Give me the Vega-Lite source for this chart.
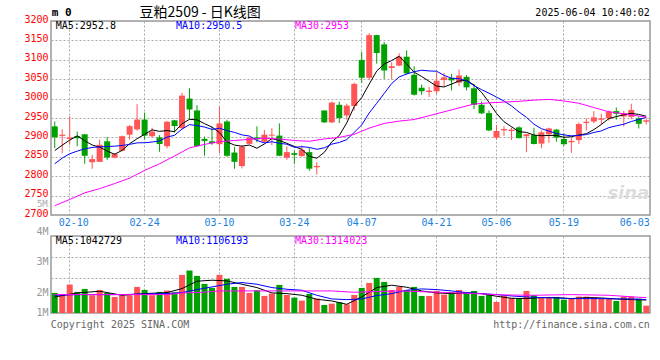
{
"$schema": "https://vega.github.io/schema/vega-lite/v6.json",
"background": "#ffffff",
"padding": {"left": 23, "top": 5, "right": 8, "bottom": 5},
"spacing": -3,
"config": {
  "view": {"stroke": "#999999", "strokeWidth": 1.5},
  "axis": {"labelFont": "DejaVu Sans Mono", "labelFontSize": 10, "ticks": false, "domain": false, "gridColor": "#aaaaaa", "gridDash": [2, 2], "gridWidth": 1, "title": null, "labelOverlap": false},
  "text": {"font": "DejaVu Sans Mono", "fontSize": 10}
},
"datasets": {
"k": [
{"d":"02-06","o":2928.5,"h":2941,"l":2872,"c":2900.4,"v":1233000,"m5":2866,"m10":2832},
{"d":"02-07","o":2903.8,"h":2920.8,"l":2860,"c":2907,"v":1183000,"m5":2880,"m10":2846.7},
{"d":"02-10","o":2896,"h":2954,"l":2881,"c":2900,"v":1650000,"m5":2893,"m10":2857.8},
{"d":"02-11","o":2903,"h":2915,"l":2877,"c":2898,"v":1283000,"m5":2904,"m10":2864.6},
{"d":"02-12","o":2908,"h":2909,"l":2832,"c":2852.6,"v":1433000,"m5":2891.6,"m10":2870.5},
{"d":"02-13","o":2836,"h":2855,"l":2819,"c":2844,"v":1117000,"m5":2880.3,"m10":2874},
{"d":"02-14","o":2837,"h":2894,"l":2837,"c":2881,"v":1383000,"m5":2875.1,"m10":2875.6},
{"d":"02-17","o":2890,"h":2901,"l":2842,"c":2848,"v":1233000,"m5":2864.7,"m10":2876.5},
{"d":"02-18","o":2848,"h":2859.5,"l":2846,"c":2857,"v":1033000,"m5":2856.5,"m10":2877.4},
{"d":"02-19","o":2865.5,"h":2904.6,"l":2864,"c":2903,"v":1117000,"m5":2866.6,"m10":2879.1},
{"d":"02-20","o":2907,"h":2932,"l":2894,"c":2929,"v":1117000,"m5":2883.6,"m10":2882},
{"d":"02-21","o":2920.8,"h":2985.6,"l":2917,"c":2946,"v":1533000,"m5":2896.6,"m10":2885.9},
{"d":"02-24","o":2946,"h":2964,"l":2894,"c":2904.6,"v":1383000,"m5":2907.9,"m10":2886.3},
{"d":"02-25","o":2903,"h":2925,"l":2900,"c":2915,"v":1117000,"m5":2919.5,"m10":2888},
{"d":"02-26","o":2900,"h":2906,"l":2863,"c":2883,"v":1283000,"m5":2915.5,"m10":2891.1},
{"d":"02-27","o":2877.4,"h":2942,"l":2872,"c":2940.4,"v":1350000,"m5":2917.8,"m10":2900.7},
{"d":"02-28","o":2944,"h":2945,"l":2913,"c":2929.4,"v":1267000,"m5":2914.5,"m10":2905.5},
{"d":"03-03","o":2924,"h":3015,"l":2921.5,"c":3007.7,"v":2133000,"m5":2935.1,"m10":2921.5},
{"d":"03-04","o":3000,"h":3026.5,"l":2946,"c":2972,"v":2350000,"m5":2946.5,"m10":2933},
{"d":"03-05","o":2969.4,"h":2983,"l":2877,"c":2877.4,"v":2083000,"m5":2945.4,"m10":2930.5},
{"d":"03-06","o":2896,"h":2902,"l":2852.6,"c":2891,"v":1683000,"m5":2935.5,"m10":2926.7},
{"d":"03-07","o":2890,"h":2927.6,"l":2881,"c":2885,"v":1483000,"m5":2926.6,"m10":2920.6},
{"d":"03-10","o":2882.5,"h":2979.6,"l":2859.5,"c":2936,"v":2133000,"m5":2912.3,"m10":2923.7},
{"d":"03-11","o":2941,"h":2945.6,"l":2850,"c":2852.6,"v":1933000,"m5":2888.4,"m10":2917.5},
{"d":"03-12","o":2861,"h":2875.5,"l":2819,"c":2837,"v":1533000,"m5":2880.3,"m10":2912.9},
{"d":"03-13","o":2826,"h":2880,"l":2820,"c":2876,"v":1533000,"m5":2877.3,"m10":2906.4},
{"d":"03-14","o":2883.3,"h":2902,"l":2882,"c":2900,"v":1233000,"m5":2880.3,"m10":2903.5},
{"d":"03-17","o":2900,"h":2928.5,"l":2887.5,"c":2895,"v":1367000,"m5":2872.1,"m10":2892.2},
{"d":"03-18","o":2889,"h":2919,"l":2886,"c":2907,"v":1083000,"m5":2883,"m10":2885.7},
{"d":"03-19","o":2904.6,"h":2923.4,"l":2880,"c":2907,"v":1200000,"m5":2897,"m10":2888.7},
{"d":"03-20","o":2904.6,"h":2936,"l":2852.6,"c":2852.6,"v":1633000,"m5":2892.3,"m10":2884.8},
{"d":"03-21","o":2847.5,"h":2877,"l":2842,"c":2862,"v":1133000,"m5":2884.7,"m10":2882.5},
{"d":"03-24","o":2859.5,"h":2866,"l":2832,"c":2855,"v":1000000,"m5":2876.7,"m10":2874.4},
{"d":"03-25","o":2852,"h":2879,"l":2850,"c":2868,"v":850000,"m5":2868.9,"m10":2876},
{"d":"03-26","o":2862,"h":2873,"l":2814,"c":2819.4,"v":1183000,"m5":2851.4,"m10":2874.2},
{"d":"03-27","o":2823,"h":2836.5,"l":2804,"c":2826.5,"v":950000,"m5":2846.2,"m10":2869.3},
{"d":"03-28","o":2969.4,"h":2969.4,"l":2937,"c":2938.7,"v":633000,"m5":2861.5,"m10":2873.1},
{"d":"03-31","o":2938.7,"h":2992.4,"l":2937,"c":2989.8,"v":700000,"m5":2888.5,"m10":2882.6},
{"d":"04-01","o":2984,"h":2992,"l":2937,"c":2950,"v":767000,"m5":2904.9,"m10":2886.9},
{"d":"04-02","o":2956.6,"h":2987,"l":2945.6,"c":2982,"v":667000,"m5":2937.4,"m10":2894.4},
{"d":"04-03","o":2981,"h":3041,"l":2969,"c":3038,"v":1133000,"m5":2979.7,"m10":2912.9},
{"d":"04-07","o":3099.7,"h":3120,"l":3041,"c":3053.7,"v":1483000,"m5":3002.7,"m10":2932.1},
{"d":"04-08","o":3053.7,"h":3168.7,"l":3047.8,"c":3163.6,"v":1733000,"m5":3037.5,"m10":2963},
{"d":"04-09","o":3163.6,"h":3164.5,"l":3090,"c":3117.6,"v":1983000,"m5":3071,"m10":2987.9},
{"d":"04-10","o":3139.8,"h":3145.7,"l":3051,"c":3072.5,"v":1783000,"m5":3089.1,"m10":3013.2},
{"d":"04-11","o":3079,"h":3093.8,"l":3049.5,"c":3083.5,"v":1383000,"m5":3098.2,"m10":3038.9},
{"d":"04-14","o":3085,"h":3116.8,"l":3083.5,"c":3108,"v":1533000,"m5":3109,"m10":3055.9},
{"d":"04-15","o":3108,"h":3124.4,"l":3062,"c":3065,"v":1383000,"m5":3089.3,"m10":3063.4},
{"d":"04-16","o":3061.4,"h":3083.5,"l":3008,"c":3010,"v":1533000,"m5":3067.8,"m10":3069.4},
{"d":"04-17","o":3028,"h":3036,"l":3010,"c":3019,"v":1083000,"m5":3057.1,"m10":3073.1},
{"d":"04-18","o":3017,"h":3030,"l":3004,"c":3020.5,"v":1083000,"m5":3044.5,"m10":3071.3},
{"d":"04-21","o":3019,"h":3068,"l":3012,"c":3046,"v":1333000,"m5":3032.1,"m10":3070.6},
{"d":"04-22","o":3047.8,"h":3066.5,"l":3032,"c":3054.6,"v":1150000,"m5":3030,"m10":3059.7},
{"d":"04-23","o":3053,"h":3064,"l":3021,"c":3047,"v":1267000,"m5":3037.4,"m10":3052.6},
{"d":"04-24","o":3041,"h":3075,"l":3032,"c":3059.7,"v":1383000,"m5":3045.6,"m10":3051.3},
{"d":"04-25","o":3056,"h":3061,"l":3021,"c":3029,"v":1233000,"m5":3047.3,"m10":3045.9},
{"d":"04-28","o":3026.5,"h":3037.5,"l":2973,"c":2984,"v":1333000,"m5":3034.9,"m10":3033.5},
{"d":"04-29","o":2984,"h":2992.5,"l":2960,"c":2962,"v":1083000,"m5":3016.3,"m10":3023.2},
{"d":"04-30","o":2962.6,"h":2970,"l":2916,"c":2918,"v":1150000,"m5":2990.5,"m10":3014},
{"d":"05-06","o":2899.5,"h":2932,"l":2893.6,"c":2916.5,"v":783000,"m5":2961.9,"m10":3003.7},
{"d":"05-07","o":2918,"h":2928.5,"l":2904,"c":2921.5,"v":1083000,"m5":2940.4,"m10":2993.8},
{"d":"05-08","o":2916.5,"h":2925,"l":2893.6,"c":2920,"v":983000,"m5":2927.6,"m10":2981.2},
{"d":"05-09","o":2925.8,"h":2928.5,"l":2898,"c":2898,"v":950000,"m5":2914.8,"m10":2965.6},
{"d":"05-12","o":2903,"h":2909,"l":2862,"c":2908,"v":1333000,"m5":2912.8,"m10":2951.7},
{"d":"05-13","o":2906,"h":2925,"l":2882,"c":2883,"v":1117000,"m5":2906.1,"m10":2934},
{"d":"05-14","o":2884,"h":2918,"l":2872,"c":2913,"v":983000,"m5":2904.4,"m10":2922.4},
{"d":"05-15","o":2908,"h":2925,"l":2886,"c":2923,"v":983000,"m5":2905,"m10":2916.3},
{"d":"05-16","o":2920,"h":2921.5,"l":2889,"c":2899.5,"v":1033000,"m5":2905.3,"m10":2910.1},
{"d":"05-19","o":2896,"h":2910.6,"l":2878,"c":2882.5,"v":900000,"m5":2900.2,"m10":2906.5},
{"d":"05-20","o":2887.5,"h":2900,"l":2860,"c":2891,"v":983000,"m5":2901.8,"m10":2904},
{"d":"05-21","o":2893,"h":2938.7,"l":2883,"c":2934.5,"v":1050000,"m5":2906.1,"m10":2905.3},
{"d":"05-22","o":2937,"h":2949,"l":2918,"c":2940.4,"v":1050000,"m5":2909.6,"m10":2907.3},
{"d":"05-23","o":2941,"h":2967.7,"l":2937,"c":2951.5,"v":1017000,"m5":2920,"m10":2912.6},
{"d":"05-26","o":2945.5,"h":2960.7,"l":2933.6,"c":2949,"v":933000,"m5":2933.3,"m10":2916.7},
{"d":"05-27","o":2949,"h":2969.4,"l":2943.6,"c":2966.8,"v":933000,"m5":2948.4,"m10":2925.1},
{"d":"05-28","o":2967.7,"h":2977,"l":2945.6,"c":2961,"v":833000,"m5":2953.7,"m10":2929.9},
{"d":"05-29","o":2954,"h":2968.5,"l":2928,"c":2962.6,"v":1050000,"m5":2958.2,"m10":2933.9},
{"d":"05-30","o":2952.8,"h":2986.5,"l":2947,"c":2970.7,"v":1050000,"m5":2962,"m10":2941},
{"d":"06-03","o":2949,"h":2954,"l":2923,"c":2935,"v":950000,"m5":2959.2,"m10":2946.3},
{"d":"06-04","o":2940.4,"h":2949,"l":2933.6,"c":2944,"v":600000,"m5":2954.7,"m10":2951.6}
],
"ma30": [
{"d":"02-06","p":2724},{"d":"02-10","p":2740},{"d":"02-12","p":2757},{"d":"02-14","p":2768},{"d":"02-18","p":2781},{"d":"02-20","p":2795},{"d":"02-24","p":2815},{"d":"02-26","p":2832},{"d":"02-28","p":2852},{"d":"03-04","p":2873},{"d":"03-06","p":2882},{"d":"03-10","p":2889},{"d":"03-12","p":2892},{"d":"03-14","p":2895},{"d":"03-18","p":2898},{"d":"03-20","p":2896},{"d":"03-24","p":2892},{"d":"03-26","p":2890},{"d":"03-28","p":2896},{"d":"04-01","p":2900},{"d":"04-03","p":2908},{"d":"04-08","p":2924},{"d":"04-10","p":2936},{"d":"04-14","p":2942},{"d":"04-16","p":2946},{"d":"04-18","p":2956},{"d":"04-22","p":2966},{"d":"04-24","p":2976},{"d":"04-28","p":2986},{"d":"04-30","p":2989},{"d":"05-07","p":2991},{"d":"05-09","p":2993},{"d":"05-13","p":2996},{"d":"05-15","p":2998},{"d":"05-19","p":2994},{"d":"05-21","p":2988},{"d":"05-23","p":2977},{"d":"05-27","p":2966},{"d":"05-29","p":2961},{"d":"06-03","p":2955},{"d":"06-04","p":2952}
],
"vma": [
{"s":"MA5","d":"02-06","v":1033000},{"s":"MA5","d":"02-11","v":1233000},{"s":"MA5","d":"02-14","v":1317000},{"s":"MA5","d":"02-19","v":1117000},{"s":"MA5","d":"02-24","v":1200000},{"s":"MA5","d":"02-27","v":1250000},{"s":"MA5","d":"03-03","v":1450000},{"s":"MA5","d":"03-05","v":1817000},{"s":"MA5","d":"03-07","v":1867000},{"s":"MA5","d":"03-11","v":1833000},{"s":"MA5","d":"03-13","v":1667000},{"s":"MA5","d":"03-17","v":1500000},{"s":"MA5","d":"03-19","v":1233000},{"s":"MA5","d":"03-21","v":1200000},{"s":"MA5","d":"03-25","v":1117000},{"s":"MA5","d":"03-27","v":917000},{"s":"MA5","d":"03-31","v":833000},{"s":"MA5","d":"04-02","v":667000},{"s":"MA5","d":"04-07","v":1033000},{"s":"MA5","d":"04-09","v":1500000},{"s":"MA5","d":"04-11","v":1617000},{"s":"MA5","d":"04-15","v":1517000},{"s":"MA5","d":"04-17","v":1333000},{"s":"MA5","d":"04-21","v":1233000},{"s":"MA5","d":"04-23","v":1200000},{"s":"MA5","d":"04-25","v":1233000},{"s":"MA5","d":"04-29","v":1200000},{"s":"MA5","d":"05-06","v":1067000},{"s":"MA5","d":"05-08","v":967000},{"s":"MA5","d":"05-12","v":950000},{"s":"MA5","d":"05-14","v":1000000},{"s":"MA5","d":"05-16","v":1000000},{"s":"MA5","d":"05-20","v":950000},{"s":"MA5","d":"05-22","v":1000000},{"s":"MA5","d":"05-26","v":983000},{"s":"MA5","d":"05-28","v":933000},{"s":"MA5","d":"05-30","v":900000},{"s":"MA5","d":"06-04","v":880000},
{"s":"MA10","d":"02-06","v":1117000},{"s":"MA10","d":"02-11","v":1150000},{"s":"MA10","d":"02-14","v":1150000},{"s":"MA10","d":"02-19","v":1150000},{"s":"MA10","d":"02-24","v":1183000},{"s":"MA10","d":"02-27","v":1200000},{"s":"MA10","d":"03-03","v":1250000},{"s":"MA10","d":"03-05","v":1400000},{"s":"MA10","d":"03-07","v":1533000},{"s":"MA10","d":"03-11","v":1667000},{"s":"MA10","d":"03-13","v":1750000},{"s":"MA10","d":"03-17","v":1667000},{"s":"MA10","d":"03-19","v":1500000},{"s":"MA10","d":"03-21","v":1417000},{"s":"MA10","d":"03-25","v":1367000},{"s":"MA10","d":"03-27","v":1117000},{"s":"MA10","d":"03-31","v":933000},{"s":"MA10","d":"04-02","v":900000},{"s":"MA10","d":"04-07","v":933000},{"s":"MA10","d":"04-09","v":1100000},{"s":"MA10","d":"04-11","v":1200000},{"s":"MA10","d":"04-15","v":1367000},{"s":"MA10","d":"04-17","v":1433000},{"s":"MA10","d":"04-21","v":1400000},{"s":"MA10","d":"04-23","v":1333000},{"s":"MA10","d":"04-25","v":1250000},{"s":"MA10","d":"04-29","v":1200000},{"s":"MA10","d":"05-06","v":1150000},{"s":"MA10","d":"05-08","v":1083000},{"s":"MA10","d":"05-12","v":1033000},{"s":"MA10","d":"05-14","v":1000000},{"s":"MA10","d":"05-16","v":983000},{"s":"MA10","d":"05-20","v":950000},{"s":"MA10","d":"05-22","v":950000},{"s":"MA10","d":"05-26","v":950000},{"s":"MA10","d":"05-28","v":933000},{"s":"MA10","d":"05-30","v":933000},{"s":"MA10","d":"06-04","v":900000},
{"s":"MA30","d":"02-06","v":1150000},{"s":"MA30","d":"02-18","v":1150000},{"s":"MA30","d":"02-27","v":1150000},{"s":"MA30","d":"03-03","v":1233000},{"s":"MA30","d":"03-06","v":1267000},{"s":"MA30","d":"03-10","v":1333000},{"s":"MA30","d":"03-20","v":1333000},{"s":"MA30","d":"03-31","v":1333000},{"s":"MA30","d":"04-03","v":1267000},{"s":"MA30","d":"04-14","v":1333000},{"s":"MA30","d":"04-18","v":1283000},{"s":"MA30","d":"04-25","v":1217000},{"s":"MA30","d":"05-07","v":1133000},{"s":"MA30","d":"05-13","v":1117000},{"s":"MA30","d":"05-20","v":1150000},{"s":"MA30","d":"05-27","v":1117000},{"s":"MA30","d":"06-03","v":1017000},{"s":"MA30","d":"06-04","v":1000000}
]
},
"vconcat": [
{
  "width": 599, "height": 194,
  "data": {"name": "k"},
  "encoding": {"x": {"field": "d", "type": "ordinal", "title": null, "scale": {"paddingInner": 0, "paddingOuter": 0},
    "axis": {"values": ["02-10","02-24","03-10","03-24","04-07","04-21","05-06","05-19","06-03"], "labelColor": "#1a7fdc", "labelAngle": 0, "labelPadding": 2, "labelFlush": 15, "labelFlushOffset": 11, "labelOverlap": false, "bandPosition": 0.5, "grid": true,
      "gridOpacity": {"condition": {"test": "datum.value === '06-03'", "value": 0}, "value": 1}}}},
  "layer": [
    {"mark": {"type": "rule", "strokeWidth": 1},
     "encoding": {"y": {"field": "l", "type": "quantitative", "title": null, "scale": {"domain": [2700, 3200], "nice": false, "zero": false},
        "axis": {"values": [2700,2750,2800,2850,2900,2950,3000,3050,3100,3150,3200], "tickCount": 50, "format": "d", "labelColor": "#ff0000", "labelPadding": 3, "labelOffset": -2, "labelOverlap": false, "labelBound": false, "grid": true, "title": null}},
       "y2": {"field": "h"},
       "color": {"condition": {"test": "datum.c >= datum.o", "value": "#ff5555"}, "value": "#00a000"}}},
    {"mark": {"type": "bar", "size": 6},
     "encoding": {"y": {"field": "o", "type": "quantitative", "title": null, "scale": {"domain": [2700, 3200], "nice": false, "zero": false}},
       "y2": {"field": "c"},
       "color": {"condition": {"test": "datum.c >= datum.o", "value": "#ff5555"}, "value": "#00a000"}}},
    {"mark": {"type": "line", "color": "#000000", "strokeWidth": 1},
     "encoding": {"y": {"field": "m5", "type": "quantitative", "title": null, "scale": {"domain": [2700, 3200], "nice": false, "zero": false}}}},
    {"mark": {"type": "line", "color": "#0000ff", "strokeWidth": 1},
     "encoding": {"y": {"field": "m10", "type": "quantitative", "title": null, "scale": {"domain": [2700, 3200], "nice": false, "zero": false}}}},
    {"data": {"name": "ma30"}, "mark": {"type": "line", "color": "#ff00ff", "strokeWidth": 1},
     "encoding": {"y": {"field": "p", "type": "quantitative", "title": null, "scale": {"domain": [2700, 3200], "nice": false, "zero": false}}}},
    {"data": {"values": [{}]}, "mark": {"type": "text", "align": "left", "baseline": "middle", "color": "#000000", "dx": 1},
     "encoding": {"x": {"datum": "02-06", "type": "ordinal"}, "y": {"datum": 3187, "type": "quantitative", "scale": {"domain": [2700, 3200], "nice": false, "zero": false}}, "text": {"value": "MA5:2952.8"}}},
    {"data": {"values": [{}]}, "mark": {"type": "text", "align": "left", "baseline": "middle", "color": "#0000ff", "dx": 1.5},
     "encoding": {"x": {"datum": "02-28", "type": "ordinal"}, "y": {"datum": 3187, "type": "quantitative", "scale": {"domain": [2700, 3200], "nice": false, "zero": false}}, "text": {"value": "MA10:2950.5"}}},
    {"data": {"values": [{}]}, "mark": {"type": "text", "align": "left", "baseline": "middle", "color": "#ff00ff", "dx": 0.6},
     "encoding": {"x": {"datum": "03-24", "type": "ordinal"}, "y": {"datum": 3187, "type": "quantitative", "scale": {"domain": [2700, 3200], "nice": false, "zero": false}}, "text": {"value": "MA30:2953"}}},
    {"data": {"values": [{}]}, "mark": {"type": "text", "align": "left", "baseline": "middle", "color": "#000000", "dx": -3, "fontWeight": "bold", "fontSize": 11},
     "encoding": {"x": {"datum": "02-06", "type": "ordinal"}, "y": {"datum": 3220.6, "type": "quantitative", "scale": {"domain": [2700, 3200], "nice": false, "zero": false}}, "text": {"value": "m 0"}}},
    {"data": {"values": [{}]}, "mark": {"type": "text", "align": "left", "baseline": "middle", "color": "#000000", "dx": -5, "font": "Noto Sans CJK SC", "fontSize": 14},
     "encoding": {"x": {"datum": "02-24", "type": "ordinal"}, "y": {"datum": 3220.6, "type": "quantitative", "scale": {"domain": [2700, 3200], "nice": false, "zero": false}}, "text": {"value": "豆粕2509 - 日K线图"}}},
    {"data": {"values": [{}]}, "mark": {"type": "text", "align": "right", "baseline": "middle", "color": "#000000", "dx": 3.5},
     "encoding": {"x": {"datum": "06-04", "type": "ordinal"}, "y": {"datum": 3220.6, "type": "quantitative", "scale": {"domain": [2700, 3200], "nice": false, "zero": false}}, "text": {"value": "2025-06-04 10:40:02"}}},
    {"data": {"values": [{}]}, "mark": {"type": "text", "align": "right", "baseline": "middle", "color": "#aaaaaa", "dx": -7, "fontSize": 9},
     "encoding": {"x": {"datum": "02-06", "type": "ordinal"}, "y": {"datum": 2729.6, "type": "quantitative", "scale": {"domain": [2700, 3200], "nice": false, "zero": false}}, "text": {"value": "5M"}}},
    {"data": {"values": [{}]}, "mark": {"type": "text", "align": "right", "baseline": "middle", "color": "#dddddd", "dx": 3, "font": "DejaVu Sans", "fontStyle": "italic", "fontWeight": "bold", "fontSize": 18},
     "encoding": {"x": {"datum": "06-04", "type": "ordinal"}, "y": {"datum": 2755, "type": "quantitative", "scale": {"domain": [2700, 3200], "nice": false, "zero": false}}, "text": {"value": "sina"}}}
  ]
},
{
  "width": 599, "height": 77,
  "data": {"name": "k"},
  "encoding": {"x": {"field": "d", "type": "ordinal", "title": null, "scale": {"paddingInner": 0, "paddingOuter": 0},
    "axis": {"values": ["02-10","02-24","03-10","03-24","04-07","04-21","05-06","05-19","06-03"], "labels": false, "bandPosition": 0.5, "grid": true,
      "gridOpacity": {"condition": {"test": "datum.value === '06-03'", "value": 0}, "value": 1}}}},
  "layer": [
    {"mark": {"type": "bar", "size": 6},
     "encoding": {"y": {"field": "v", "type": "quantitative", "title": null, "scale": {"domain": [233000, 4070000], "nice": false, "zero": false},
        "axis": {"values": [1000000, 2000000, 3000000, 4000000], "tickCount": 50, "labelExpr": "datum.value / 1000000 + 'M'", "labelColor": "#999999", "labelPadding": 3, "labelOverlap": false, "labelBound": false, "grid": true, "title": null,
          "gridOpacity": {"expr": "datum.value == 2000000 || datum.value == 3000000 ? 1 : 0"},
          "labelOffset": {"expr": "datum.value == 4000000 ? -6 : datum.value == 3000000 ? 4 : 15"}}},
       "y2": {"datum": 233000},
       "color": {"condition": {"test": "datum.c >= datum.o", "value": "#ff5555"}, "value": "#00a000"}}},
    {"data": {"name": "vma"}, "mark": {"type": "line", "strokeWidth": 1},
     "encoding": {"y": {"field": "v", "type": "quantitative", "title": null, "scale": {"domain": [233000, 4070000], "nice": false, "zero": false}},
       "color": {"field": "s", "type": "nominal", "legend": null, "scale": {"domain": ["MA5", "MA10", "MA30"], "range": ["#000000", "#0000ff", "#ff00ff"]}}}},
    {"data": {"values": [{}]}, "mark": {"type": "text", "align": "left", "baseline": "middle", "color": "#000000", "dx": 1},
     "encoding": {"x": {"datum": "02-06", "type": "ordinal"}, "y": {"datum": 3835000, "type": "quantitative", "scale": {"domain": [233000, 4070000], "nice": false, "zero": false}}, "text": {"value": "MA5:1042729"}}},
    {"data": {"values": [{}]}, "mark": {"type": "text", "align": "left", "baseline": "middle", "color": "#0000ff", "dx": 1.5},
     "encoding": {"x": {"datum": "02-28", "type": "ordinal"}, "y": {"datum": 3835000, "type": "quantitative", "scale": {"domain": [233000, 4070000], "nice": false, "zero": false}}, "text": {"value": "MA10:1106193"}}},
    {"data": {"values": [{}]}, "mark": {"type": "text", "align": "left", "baseline": "middle", "color": "#ff00ff", "dx": 0.6},
     "encoding": {"x": {"datum": "03-24", "type": "ordinal"}, "y": {"datum": 3835000, "type": "quantitative", "scale": {"domain": [233000, 4070000], "nice": false, "zero": false}}, "text": {"value": "MA30:1314023"}}},
    {"data": {"values": [{}]}, "mark": {"type": "text", "align": "left", "baseline": "middle", "color": "#666666", "dx": -4},
     "encoding": {"x": {"datum": "02-06", "type": "ordinal"}, "y": {"datum": -367000, "type": "quantitative", "scale": {"domain": [233000, 4070000], "nice": false, "zero": false}}, "text": {"value": "Copyright 2025 SINA.COM"}}},
    {"data": {"values": [{}]}, "mark": {"type": "text", "align": "right", "baseline": "middle", "color": "#666666", "dx": 3.5},
     "encoding": {"x": {"datum": "06-04", "type": "ordinal"}, "y": {"datum": -367000, "type": "quantitative", "scale": {"domain": [233000, 4070000], "nice": false, "zero": false}}, "text": {"value": "http://finance.sina.com.cn"}}}
  ]
}
]
}
